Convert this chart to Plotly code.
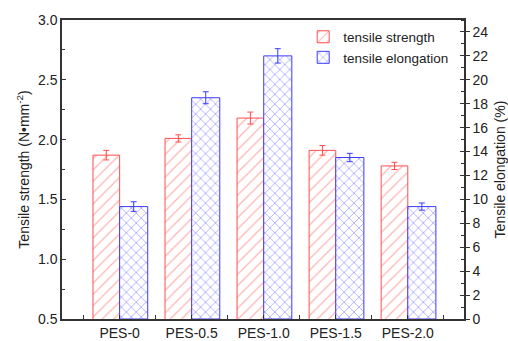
import plotly.graph_objects as go

categories = ["PES-0", "PES-0.5", "PES-1.0", "PES-1.5", "PES-2.0"]
strength = [1.87, 2.01, 2.18, 1.91, 1.78]
strength_err = [0.04, 0.03, 0.05, 0.04, 0.03]
elongation = [9.4, 18.5, 22.0, 13.5, 9.4]
elongation_err = [0.4, 0.5, 0.6, 0.35, 0.3]

xpos = list(range(len(categories)))
RED = "#ff4d4d"
RED_H = "#ff6a6a"
BLUE = "#3b3bff"
BLUE_H = "#4a4aff"
AX = "#333333"
FONT = "Liberation Sans, Arial, sans-serif"

fig = go.Figure()
fig.add_trace(go.Bar(
    x=xpos, y=strength, name="tensile strength", yaxis="y",
    width=0.37, offset=-0.37,
    marker=dict(color="white", line=dict(color=RED, width=1),
                pattern=dict(shape="/", fgcolor=RED_H, bgcolor="white", size=8, solidity=0.16)),
    error_y=dict(type="data", array=strength_err, color=RED, thickness=1, width=3),
))
fig.add_trace(go.Bar(
    x=xpos, y=elongation, name="tensile elongation", yaxis="y2",
    width=0.39, offset=0,
    marker=dict(color="white", line=dict(color=BLUE, width=1),
                pattern=dict(shape="x", fgcolor=BLUE_H, bgcolor="white", size=7, solidity=0.22)),
    error_y=dict(type="data", array=elongation_err, color=BLUE, thickness=1, width=3),
))
# dummy trace to carry the crossing ticks on the right axis
fig.add_trace(go.Scatter(x=[None], y=[None], yaxis="y3", showlegend=False, hoverinfo="skip"))

fig.update_layout(
    width=508, height=341,
    margin=dict(l=62, r=44, t=20, b=22, autoexpand=False),
    paper_bgcolor="white", plot_bgcolor="white",
    font=dict(family=FONT, size=14, color="#222"),
    barmode="overlay",
    showlegend=True,
    legend=dict(x=0.6, y=0.995, xanchor="left", yanchor="top",
                bgcolor="rgba(0,0,0,0)", font=dict(size=13.5), tracegroupgap=0,
                itemwidth=30),
    xaxis=dict(
        range=[-0.8, 4.78], tickmode="array", tickvals=xpos, ticktext=categories,
        showline=True, linecolor=AX, linewidth=1.5, mirror=True,
        ticks="inside", ticklen=4, tickcolor=AX, showgrid=False, zeroline=False,
        minor=dict(tickmode="linear", tick0=0.5, dtick=1, ticks="inside", ticklen=4, tickcolor=AX),
        tickfont=dict(size=14), automargin=False,
    ),
    yaxis=dict(
        range=[0.5, 3.0], dtick=0.5, tickformat=".1f",
        showline=True, linecolor=AX, linewidth=1.5,
        ticks="inside", ticklen=4, tickcolor=AX, showgrid=False, zeroline=False,
        minor=dict(dtick=0.25, ticks="inside", ticklen=3, tickcolor=AX),
        title=dict(text="Tensile strength (N•mm<sup>-2</sup>)", font=dict(size=14), standoff=5),
        tickfont=dict(size=14), automargin=False,
    ),
    yaxis2=dict(
        range=[0, 25], tickvals=list(range(0, 25, 2)), overlaying="y", side="right",
        showline=True, linecolor=AX, linewidth=1.5,
        ticks="outside", ticklen=4, tickcolor=AX, showgrid=False, zeroline=False,
        minor=dict(dtick=1, ticks="inside", ticklen=3, tickcolor=AX),
        title=dict(text="Tensile elongation (%)", font=dict(size=14), standoff=8),
        tickfont=dict(size=14), automargin=False,
    ),
    yaxis3=dict(
        range=[0, 25], tickvals=list(range(0, 25, 2)), overlaying="y", side="right",
        showline=False, ticks="inside", ticklen=4, tickcolor=AX, showticklabels=False,
        showgrid=False, zeroline=False, automargin=False,
    ),
)

fig.write_html("out.html")
